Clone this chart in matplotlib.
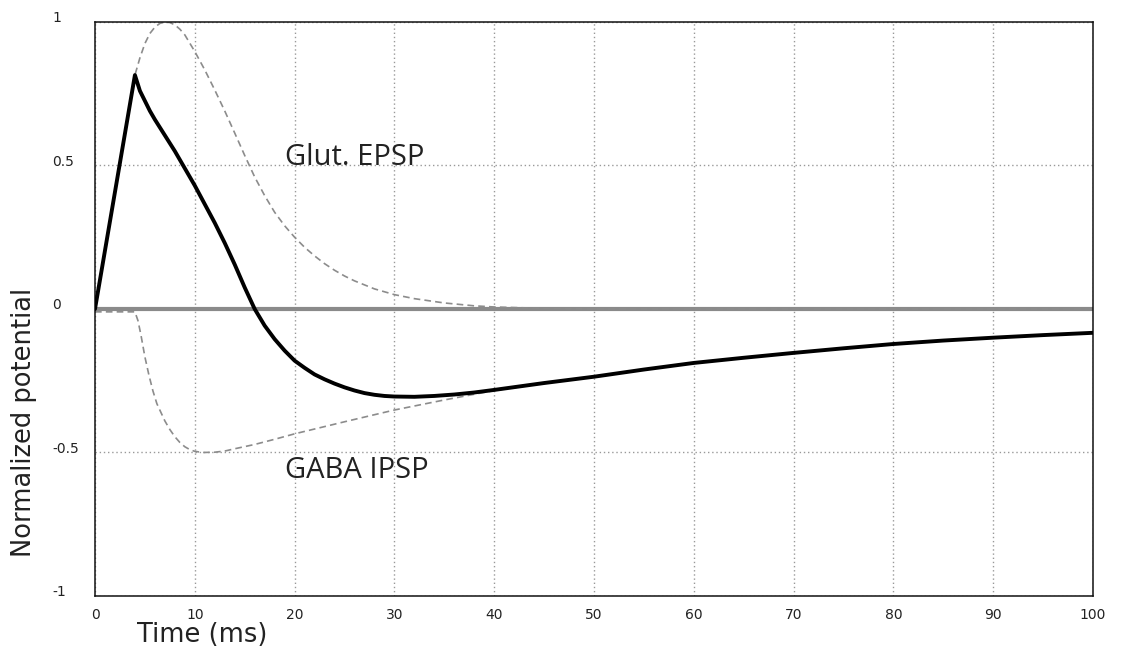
import matplotlib.pyplot as plt
from matplotlib.transforms import ScaledTranslation

# Tempo (ms) e potenciais normalizados
t_net = [0, 4, 4.5, 5, 5.5, 6, 7, 8, 9, 10, 11, 12, 13, 14, 15, 16, 17, 18, 19,
         20, 21, 22, 23, 24, 25, 26, 27, 28, 29, 30, 32, 34, 36, 38, 40, 45, 50,
         55, 60, 65, 70, 75, 80, 85, 90, 95, 100]
v_net = [0, 0.815, 0.76, 0.725, 0.69, 0.66, 0.605, 0.55, 0.49, 0.43, 0.365, 0.3,
         0.23, 0.155, 0.075, 0.0, -0.058, -0.105, -0.145, -0.18, -0.205,
         -0.228, -0.245, -0.26, -0.273, -0.284, -0.293, -0.299, -0.303, -0.305,
         -0.306, -0.303, -0.298, -0.291, -0.282, -0.258, -0.236, -0.211, -0.188,
         -0.17, -0.153, -0.137, -0.122, -0.11, -0.1, -0.091, -0.083]

t_glut = [0, 4, 4.5, 5, 5.5, 6, 6.5, 7, 7.5, 8, 8.5, 9, 10, 11, 12, 13, 14, 15,
          16, 17, 18, 19, 20, 21, 22, 23, 24, 25, 26, 28, 30, 32, 35, 38, 40, 45,
          50, 100]
v_glut = [0, 0.815, 0.875, 0.925, 0.96, 0.982, 0.995, 1.0, 0.998, 0.99, 0.975,
          0.955, 0.897, 0.833, 0.763, 0.69, 0.613, 0.535, 0.46, 0.395, 0.337,
          0.29, 0.25, 0.215, 0.185, 0.158, 0.135, 0.115, 0.098, 0.07, 0.05, 0.036,
          0.021, 0.011, 0.007, 0.002, 0.0, 0.0]

t_gaba = [0, 4, 4.3, 4.6, 5, 5.4, 5.8, 6.2, 6.6, 7, 7.5, 8, 8.5, 9, 9.5, 10,
          10.8, 12, 13, 14, 16, 18, 20, 25, 30, 35, 40, 45, 50, 55, 60, 65, 70,
          75, 80, 85, 90, 95, 100]
v_gaba = [-0.01, -0.01, -0.04, -0.09, -0.167, -0.23, -0.285, -0.33, -0.36, -0.39,
          -0.42, -0.445, -0.465, -0.48, -0.49, -0.496, -0.5, -0.499, -0.495,
          -0.487, -0.472, -0.454, -0.435, -0.393, -0.352, -0.317, -0.284, -0.259,
          -0.236, -0.211, -0.188, -0.17, -0.153, -0.137, -0.122, -0.11, -0.1,
          -0.091, -0.083]

x_ticks = [0, 10, 20, 30, 40, 50, 60, 70, 80, 90, 100]
y_ticks = [-1, -0.5, 0, 0.5, 1]
y_labels = ['-1', '-0.5', '0', '0.5', '1']

fig = plt.figure(figsize=(11.27, 6.52), dpi=100)
ax = fig.add_axes([0.0843, 0.0859, 0.8855, 0.8804])

ax.axhline(0, color='#8a8a8a', lw=3, zorder=1)
ax.plot(t_glut, v_glut, color='#8c8c8c', lw=1.2, ls=(0, (4, 2.5)), zorder=2)
ax.plot(t_gaba, v_gaba, color='#8c8c8c', lw=1.2, ls=(0, (4, 2.5)), zorder=2)
ax.plot(t_net, v_net, color='black', lw=2.8, zorder=3,
        solid_joinstyle='round', solid_capstyle='round')

ax.text(19, 0.5, 'Glut. EPSP', family='Open Sans', fontsize=21, color='#222',
        va='baseline', ha='left')
ax.text(19, -0.59, 'GABA IPSP', family='Open Sans', fontsize=21, color='#222',
        va='baseline', ha='left')

ax.set_xlim(0, 100)
ax.set_ylim(-1, 1)
ax.set_xticks(x_ticks)
ax.set_xticklabels([str(x) for x in x_ticks])
ax.set_yticks(y_ticks)
ax.set_yticklabels(y_labels)
ax.grid(True, color='#999999', lw=1, ls=(0, (1, 2)))
ax.set_axisbelow(True)

ax.tick_params(axis='both', length=0, labelsize=10, labelcolor='#222')
ax.tick_params(axis='x', pad=8.5)
ax.tick_params(axis='y', pad=31)
for lbl in ax.get_yticklabels():
    lbl.set_horizontalalignment('left')
    lbl.set_transform(lbl.get_transform() + ScaledTranslation(0, 0.05, fig.dpi_scale_trans))

for sp in ax.spines.values():
    sp.set_linewidth(1.1)
    sp.set_color('#111')

ax.set_xlabel('Time (ms)', fontsize=18.5, color='#222')
ax.xaxis.set_label_coords(0.107, -0.045)
ax.set_ylabel('Normalized potential', fontsize=18.5, color='#222')
ax.yaxis.set_label_coords(-0.058, 0.303)

fig.savefig('out.png', dpi=100)
plt.close(fig)
